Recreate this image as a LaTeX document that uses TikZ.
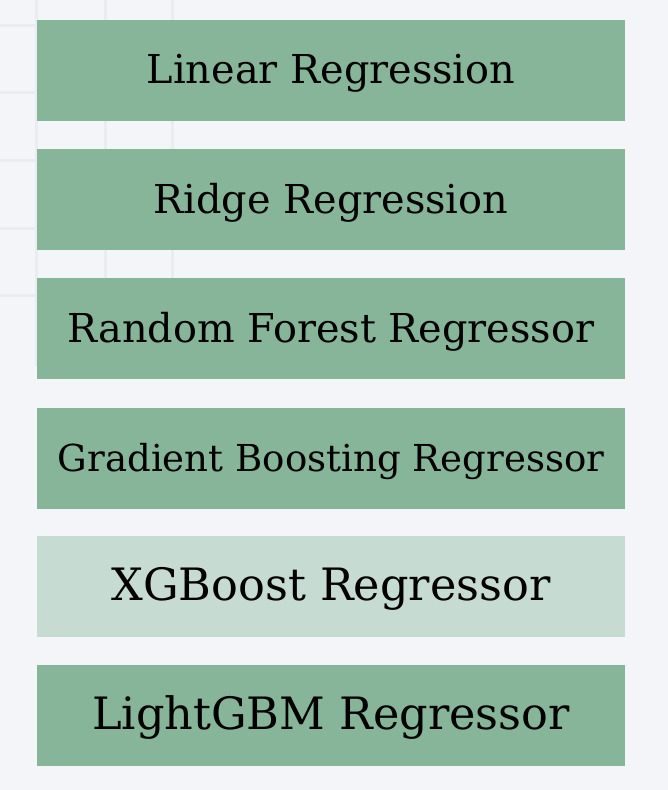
\documentclass[tikz,border=0pt]{standalone}
\usepackage{fontspec}
\setmainfont{DejaVu Serif}
\definecolor{bgcol}{HTML}{F4F5F9}
\definecolor{gridcol}{HTML}{EAECF1}
\definecolor{modelgreen}{HTML}{86B59A}
\definecolor{modellight}{HTML}{C6DCD3}
% set a label slightly below the optical centre of its box
\newcommand{\boxlabel}[2]{\fontsize{#1}{#1}\selectfont\raisebox{-3pt}[\height][\depth]{#2}}
\begin{document}
\begin{tikzpicture}[x=1pt,y=-1pt,
  modelbox/.style={fill=modelgreen, draw=none, minimum width=588pt, minimum height=101pt, inner sep=0pt, text=black},
  lightbox/.style={modelbox, fill=modellight},
  gridline/.style={draw=gridcol, line width=3pt}]
  % canvas
  \fill[bgcol] (0,0) rectangle (668,790);
  \useasboundingbox (0,0) rectangle (668,790);
  % faint background grid
  \foreach \gx in {36,105,172} \draw[gridline] (\gx,0) -- (\gx,366);
  \foreach \gy in {25,92,160,228,295} \draw[gridline] (0,\gy) -- (200,\gy);
  % model boxes
  \node[modelbox] (lin) at (331,70.5) {\boxlabel{39.8}{Linear Regression}};
  \node[modelbox] (ridge) at (331,199.5) {\boxlabel{39.8}{Ridge Regression}};
  \node[modelbox] (rf) at (331,328.5) {\boxlabel{39.8}{Random Forest Regressor}};
  \node[modelbox] (gb) at (331,458.5) {\boxlabel{37.1}{Gradient Boosting Regressor}};
  \node[lightbox] (xgb) at (331,586) {\boxlabel{44.6}{XGBoost Regressor}};
  \node[modelbox] (lgbm) at (331,715) {\boxlabel{44.6}{LightGBM Regressor}};
\end{tikzpicture}
\end{document}
